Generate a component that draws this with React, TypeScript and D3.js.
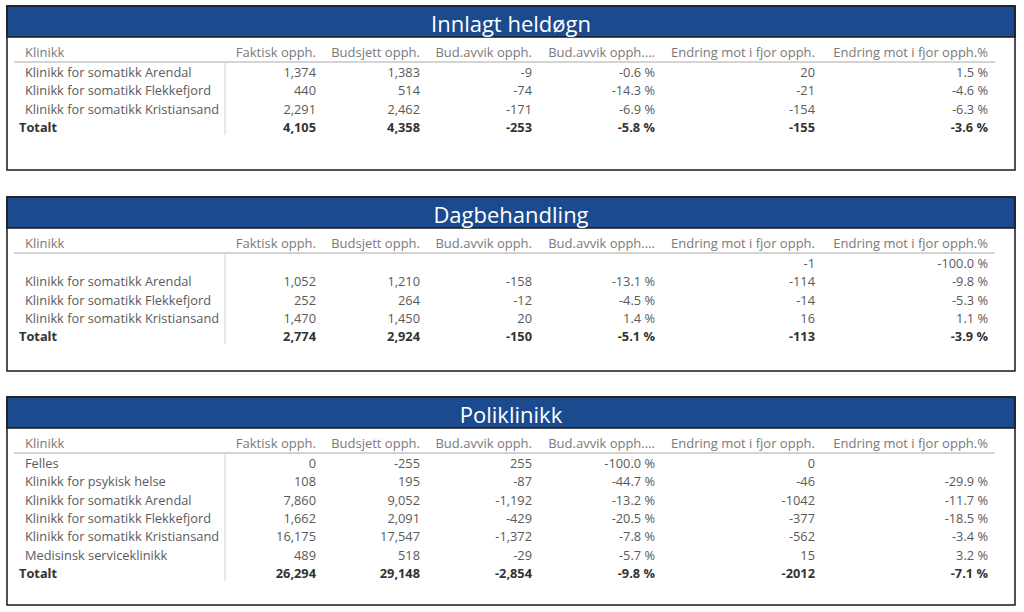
import React from "react";
import * as d3 from "d3";

// ---------- DATA ----------
const columns = [
  "Faktisk opph.",
  "Budsjett opph.",
  "Bud.avvik opph.",
  "Bud.avvik opph....",
  "Endring mot i fjor opph.",
  "Endring mot i fjor opph.%",
];

const innlagtNames = [
  "Klinikk for somatikk Arendal",
  "Klinikk for somatikk Flekkefjord",
  "Klinikk for somatikk Kristiansand",
];
const innlagtFaktisk = [1374, 440, 2291];
const innlagtBudsjett = [1383, 514, 2462];
const innlagtAvvik = [-9, -74, -171];
const innlagtAvvikPct = [-0.6, -14.3, -6.9];
const innlagtEndring = [20, -21, -154];
const innlagtEndringPct = [1.5, -4.6, -6.3];
const innlagtTotal = [4105, 4358, -253, -5.8, -155, -3.6];

const dagNames = [
  "",
  "Klinikk for somatikk Arendal",
  "Klinikk for somatikk Flekkefjord",
  "Klinikk for somatikk Kristiansand",
];
const dagFaktisk = [null, 1052, 252, 1470];
const dagBudsjett = [null, 1210, 264, 1450];
const dagAvvik = [null, -158, -12, 20];
const dagAvvikPct = [null, -13.1, -4.5, 1.4];
const dagEndring = [-1, -114, -14, 16];
const dagEndringPct = [-100.0, -9.8, -5.3, 1.1];
const dagTotal = [2774, 2924, -150, -5.1, -113, -3.9];

const poliNames = [
  "Felles",
  "Klinikk for psykisk helse",
  "Klinikk for somatikk Arendal",
  "Klinikk for somatikk Flekkefjord",
  "Klinikk for somatikk Kristiansand",
  "Medisinsk serviceklinikk",
];
const poliFaktisk = [0, 108, 7860, 1662, 16175, 489];
const poliBudsjett = [-255, 195, 9052, 2091, 17547, 518];
const poliAvvik = [255, -87, -1192, -429, -1372, -29];
const poliAvvikPct = [-100.0, -44.7, -13.2, -20.5, -7.8, -5.7];
const poliEndring = [0, -46, -1042, -377, -562, 15];
const poliEndringPct = [null, -29.9, -11.7, -18.5, -3.4, 3.2];
const poliTotal = [26294, 29148, -2854, -9.8, -2012, -7.1];

type Num = number | null;
interface Table {
  title: string;
  names: string[];
  cols: Num[][];
  total: number[];
}

const tables: Table[] = [
  {
    title: "Innlagt heldøgn",
    names: innlagtNames,
    cols: [innlagtFaktisk, innlagtBudsjett, innlagtAvvik, innlagtAvvikPct, innlagtEndring, innlagtEndringPct],
    total: innlagtTotal,
  },
  {
    title: "Dagbehandling",
    names: dagNames,
    cols: [dagFaktisk, dagBudsjett, dagAvvik, dagAvvikPct, dagEndring, dagEndringPct],
    total: dagTotal,
  },
  {
    title: "Poliklinikk",
    names: poliNames,
    cols: [poliFaktisk, poliBudsjett, poliAvvik, poliAvvikPct, poliEndring, poliEndringPct],
    total: poliTotal,
  },
];

// ---------- FORMAT ----------
const fmtGroup = d3.format(",d");
const fmtPlain = d3.format("d");
const fmtPct = (v: number) => d3.format(".1f")(v) + " %";
const formatters = [fmtGroup, fmtGroup, fmtGroup, fmtPct, fmtPlain, fmtPct];
const fmt = (ci: number, v: Num) => (v === null || v === undefined ? "" : formatters[ci](v).replace("−", "-"));

// ---------- LAYOUT ----------
const W = 1024;
const H = 612;
const panelLeft = 7;
const panelRight = 1015;
const panelTops = [6, 197, 397];
const panelBottoms = [170, 371, 605];
const titleH = 31;
const colRight = [316, 420, 532, 655, 815, 988];
const FONT = "'Segoe UI', 'Open Sans', 'Noto Sans', sans-serif";
const FS = 12.8;
const HFS = 13;

const colX = d3.scaleOrdinal<number, number>().domain(d3.range(6)).range(colRight);

export default function App() {
  return (
    <svg width={W} height={H} style={{ position: "absolute", left: 0, top: 0, background: "#fff" }} fontFamily={FONT}>
      <rect x={0} y={0} width={W} height={H} fill="#fff" />
      {tables.map((t, ti) => {
        const top = panelTops[ti];
        const bottom = panelBottoms[ti];
        const headerY = top + titleH + 15;
        const nRows = t.names.length + 1;
        const y = d3
          .scaleLinear()
          .domain([0, 1])
          .range([headerY + 20, headerY + 20 + 18.3]);
        const lineY = headerY + 10;
        const vEnd = y(nRows - 1) + 8;
        return (
          <g key={ti}>
            <rect x={panelLeft} y={top} width={panelRight - panelLeft} height={bottom - top} fill="#fff" stroke="#1a1a1a" strokeWidth={1.5} />
            <rect x={panelLeft} y={top} width={panelRight - panelLeft} height={titleH} fill="#1b4a8e" stroke="#1a1a1a" strokeWidth={1.5} />
            <text x={(panelLeft + panelRight) / 2} y={top + titleH / 2 + 1} textAnchor="middle" dominantBaseline="central" fill="#fff" fontSize={22}>
              {t.title}
            </text>
            {/* header */}
            <text x={25} y={headerY} dominantBaseline="central" fill="#7a7a7a" fontSize={HFS}>
              Klinikk
            </text>
            {columns.map((c, ci) => (
              <text key={ci} x={colX(ci)} y={headerY} textAnchor="end" dominantBaseline="central" fill="#7a7a7a" fontSize={HFS}>
                {c}
              </text>
            ))}
            <line x1={14} x2={995} y1={lineY} y2={lineY} stroke="#d4d4d4" strokeWidth={2} />
            <line x1={225} x2={225} y1={lineY} y2={vEnd} stroke="#d9d9d9" strokeWidth={1.2} />
            {/* rows */}
            {t.names.map((n, ri) => (
              <g key={ri}>
                <text x={25} y={y(ri)} dominantBaseline="central" fill="#5a5a5a" fontSize={FS}>
                  {n}
                </text>
                {t.cols.map((col, ci) => (
                  <text key={ci} x={colX(ci)} y={y(ri)} textAnchor="end" dominantBaseline="central" fill="#5a5a5a" fontSize={FS}>
                    {fmt(ci, col[ri])}
                  </text>
                ))}
              </g>
            ))}
            {/* total */}
            <text x={19} y={y(nRows - 1)} dominantBaseline="central" fill="#333" fontSize={FS} fontWeight="bold">
              Totalt
            </text>
            {t.total.map((v, ci) => (
              <text key={ci} x={colX(ci)} y={y(nRows - 1)} textAnchor="end" dominantBaseline="central" fill="#333" fontSize={FS} fontWeight="bold">
                {fmt(ci, v)}
              </text>
            ))}
          </g>
        );
      })}
    </svg>
  );
}
